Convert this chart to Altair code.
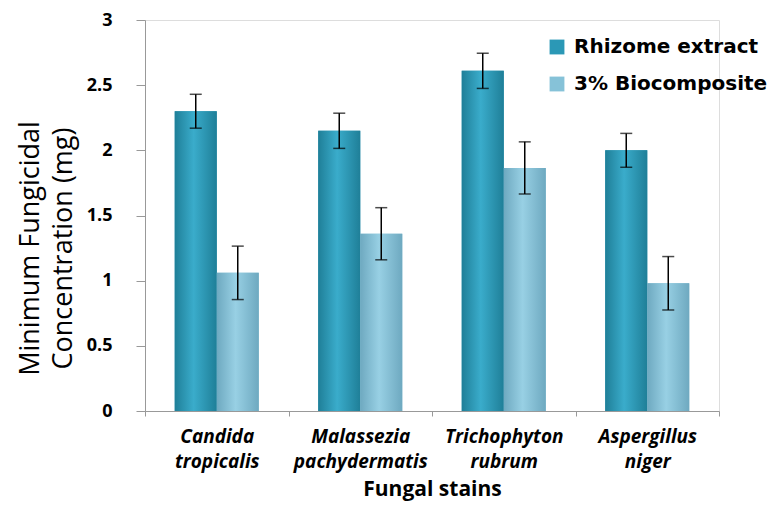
import altair as alt
import pandas as pd

categories = ["Candida tropicalis", "Malassezia pachydermatis", "Trichophyton rubrum", "Aspergillus niger"]
series = ["Rhizome extract", "3% Biocomposite"]
rhizome = [2.30, 2.15, 2.61, 2.00]
rhizome_err = [0.13, 0.135, 0.135, 0.13]
bio = [1.06, 1.36, 1.865, 0.98]
bio_err = [0.205, 0.20, 0.20, 0.205]
colors = ["#2b98b6", "#86c2d8"]

rows = []
for i, c in enumerate(categories):
    rows.append({"cat": c, "series": series[0], "value": rhizome[i],
                 "lo": rhizome[i] - rhizome_err[i], "hi": rhizome[i] + rhizome_err[i]})
    rows.append({"cat": c, "series": series[1], "value": bio[i],
                 "lo": bio[i] - bio_err[i], "hi": bio[i] + bio_err[i]})
df = pd.DataFrame(rows)

FONT = "Open Sans"

x_enc = alt.X("cat:N", sort=categories,
              scale=alt.Scale(paddingInner=0, paddingOuter=0),
              axis=alt.Axis(title="Fungal stains", labelAngle=0, tickBand="extent",
                            labelExpr="split(datum.label, ' ')",
                            labelFontStyle="italic", labelFontWeight="bold",
                            labelFontSize=19, labelLineHeight=25, labelPadding=11,
                            labelColor="black", tickSize=5, tickColor="#999999",
                            domainColor="#999999", titleFontSize=21, titleFontWeight="bold",
                            titlePadding=7, titleColor="black", labelFont=FONT, titleFont=FONT))
xo_enc = alt.XOffset("series:N", sort=series,
                     scale=alt.Scale(paddingInner=0, paddingOuter=0.708))
y_scale = alt.Scale(domain=[0, 3])

base = alt.Chart(df)

bars = base.mark_bar().encode(
    x=x_enc,
    xOffset=xo_enc,
    y=alt.Y("value:Q", scale=y_scale,
            axis=alt.Axis(title=["Minimum Fungicidal", "Concentration (mg)"],
                          values=[0, 0.5, 1, 1.5, 2, 2.5, 3], format="~g", grid=False,
                          labelFontSize=18, labelFontWeight="bold", labelColor="black",
                          labelPadding=24, tickSize=9, tickColor="#999999",
                          domainColor="#999999", titleFontSize=27, titleFontWeight="normal",
                          titleColor="black", titlePadding=9, titleLineHeight=33,
                          titleY=228,
                          labelFont=FONT, titleFont=FONT)),
    color=alt.Color("series:N", sort=series,
                    scale=alt.Scale(domain=series, range=colors),
                    legend=alt.Legend(title=None, orient="none", legendX=402, legendY=17,
                                      labelFontSize=20, labelFontWeight="bold",
                                      labelColor="black", symbolType="square",
                                      symbolSize=220, rowPadding=17, labelFont="DejaVu Sans",
                                      labelOffset=7, labelLimit=300, symbolStrokeWidth=0)),
)

def grad(dark, light):
    return alt.Gradient(gradient="linear", x1=0, x2=1, y1=0, y2=0,
                        stops=[alt.GradientStop(color=dark, offset=0),
                               alt.GradientStop(color=light, offset=0.45),
                               alt.GradientStop(color=dark, offset=1)])

g1 = base.transform_filter(alt.datum.series == series[0]).mark_bar(
    color=grad("#1f7f98", "#3aaccb")).encode(x=x_enc, xOffset=xo_enc, y=alt.Y("value:Q", scale=y_scale))
g2 = base.transform_filter(alt.datum.series == series[1]).mark_bar(
    color=grad("#6ea9c0", "#98d0e4")).encode(x=x_enc, xOffset=xo_enc, y=alt.Y("value:Q", scale=y_scale))

rules = base.mark_rule(color="black", strokeWidth=1.5).encode(
    x=x_enc, xOffset=xo_enc, y=alt.Y("lo:Q", scale=y_scale), y2="hi:Q")
caps_hi = base.mark_tick(color="black", size=12, thickness=1.5).encode(
    x=x_enc, xOffset=xo_enc, y=alt.Y("hi:Q", scale=y_scale))
caps_lo = base.mark_tick(color="black", size=12, thickness=1.5).encode(
    x=x_enc, xOffset=xo_enc, y=alt.Y("lo:Q", scale=y_scale))

chart = alt.layer(bars, g1, g2, rules, caps_hi, caps_lo).properties(
    width=574, height=391,
    autosize=alt.AutoSizeParams(type="none"),
    padding={"left": 137, "top": 12, "right": 51, "bottom": 91},
).configure_view(stroke=None).configure(font=FONT)

chart.save("out.html", embed_options={"renderer": "svg", "actions": False})
